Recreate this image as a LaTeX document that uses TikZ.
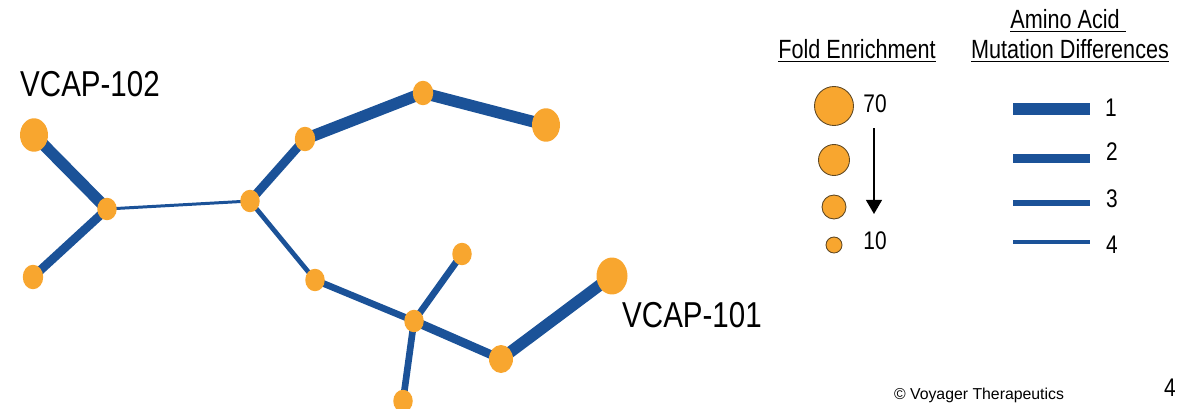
\documentclass[tikz,border=0pt]{standalone}
\usepackage{fontspec}
\setmainfont[FakeStretch=0.82]{Liberation Sans}
\newfontfamily\copyfont{Liberation Sans}
\usepackage{tikz}
\usetikzlibrary{arrows.meta,shapes.geometric,backgrounds}
\definecolor{vorange}{RGB}{248,166,47}
\definecolor{vblue}{RGB}{27,82,152}
\definecolor{vrim}{RGB}{95,72,35}
\tikzstyle{vertex}=[ellipse,fill=vorange,minimum width=0.39cm,minimum height=0.45cm,inner sep=0pt]
\tikzstyle{mid vertex}=[vertex,minimum width=0.41cm,minimum height=0.49cm]
\tikzstyle{large vertex}=[vertex,minimum width=0.48cm,minimum height=0.56cm]
\tikzstyle{big vertex}=[vertex,minimum width=0.56cm,minimum height=0.67cm]
\tikzstyle{huge vertex}=[vertex,minimum width=0.62cm,minimum height=0.74cm]
\tikzstyle{key vertex}=[circle,fill=vorange,draw=vrim,line width=0.5pt,inner sep=0pt]
\tikzstyle{edge} = [draw,vblue,-]
\tikzstyle{one} = [line width=6.6pt]
\tikzstyle{two} = [line width=5pt]
\tikzstyle{three} = [line width=3.8pt]
\tikzstyle{four} = [line width=2.7pt]
\tikzstyle{swatch}=[rectangle,fill=vblue,minimum width=1.54cm,inner sep=0pt]
\tikzstyle{head}=[font=\fontsize{15}{16}\selectfont,inner sep=0pt]
\tikzstyle{num}=[font=\fontsize{14.5}{15}\selectfont,inner sep=0pt]
\tikzstyle{tag}=[font=\fontsize{20.5}{22}\selectfont,inner sep=0pt]

\begin{document}
\begin{tikzpicture}[x=0.02cm,y=-0.02cm]
        \useasboundingbox (0,0) rectangle (1191,409);
        % network
        \node[big vertex] (a) at (34,135) {};
        \node[vertex] (b) at (107,209) {};
        \node[mid vertex] (c) at (33,277) {};
        \node[vertex] (d) at (250,201) {};
        \node[mid vertex] (e) at (305,139) {};
        \node[mid vertex] (f) at (423,93) {};
        \node[big vertex] (g) at (546,125) {};
        \node[vertex] (h) at (315,280) {};
        \node[vertex] (i) at (414,321) {};
        \node[vertex] (j) at (462,254) {};
        \node[vertex] (k) at (403,401) {};
        \node[large vertex] (l) at (501,359) {};
        \node[huge vertex] (m) at (612,276) {};
        \begin{scope}[on background layer]
        \draw[edge,one] (a.center) to (b.center);
        \draw[edge,two] (b.center) to (c.center);
        \draw[edge,line width=1.7pt] (b.center) to (d.center);
        \draw[edge,two] (d.center) to (e.center);
        \draw[edge,one] (e.center) to (f.center);
        \draw[edge,one] (f.center) to (g.center);
        \draw[edge,four] (d.center) to (h.center);
        \draw[edge,three] (h.center) to (i.center);
        \draw[edge,three] (i.center) to (j.center);
        \draw[edge,three] (i.center) to (k.center);
        \draw[edge,two] (i.center) to (l.center);
        \draw[edge,one] (l.center) to (m.center);
        \end{scope}
        \node[tag] (t102) at (90,84) {VCAP-102};
        \node[tag] (t101) at (692,315) {VCAP-101};

        % fold enrichment key
        \node[head] (fold) at (857,51) {\underline{Fold Enrichment}};
        \node[key vertex,minimum size=0.78cm] (s70) at (834,106) {};
        \node[key vertex,minimum size=0.62cm] (s50) at (834,160) {};
        \node[key vertex,minimum size=0.48cm] (s30) at (834,207) {};
        \node[key vertex,minimum size=0.32cm] (s10) at (834,245) {};
        \node[num] (n70) at (875,104) {70};
        \node[num] (n10) at (875,241) {10};
        \coordinate (arrtop) at (874,128);
        \coordinate (arrbot) at (874,214);
        \draw[line width=1pt,-{Triangle[width=9pt,length=8pt]}] (arrtop) -- (arrbot);

        % mutation key
        \node[head] (amino) at (1068,21) {\underline{Amino Acid\ }};
        \node[head] (mut) at (1070,51) {\underline{Mutation Differences}};
        \node[swatch,minimum height=0.254cm] (w1) at (1051,109) {};
        \node[swatch,minimum height=0.18cm] (w2) at (1051,158) {};
        \node[swatch,minimum height=0.12cm] (w3) at (1051,203) {};
        \node[swatch,minimum height=0.094cm] (w4) at (1051,242) {};
        \node[num] (m1) at (1111,108) {1};
        \node[num] (m2) at (1112,152) {2};
        \node[num] (m3) at (1112,199) {3};
        \node[num] (m4) at (1112,245) {4};

        % footer
        \node[font=\copyfont\fontsize{9}{10}\selectfont,inner sep=0pt] (copy) at (979,395) {\copyright{} Voyager Therapeutics};
        \node[num] (page) at (1170,388) {4};
\end{tikzpicture}
\end{document}
